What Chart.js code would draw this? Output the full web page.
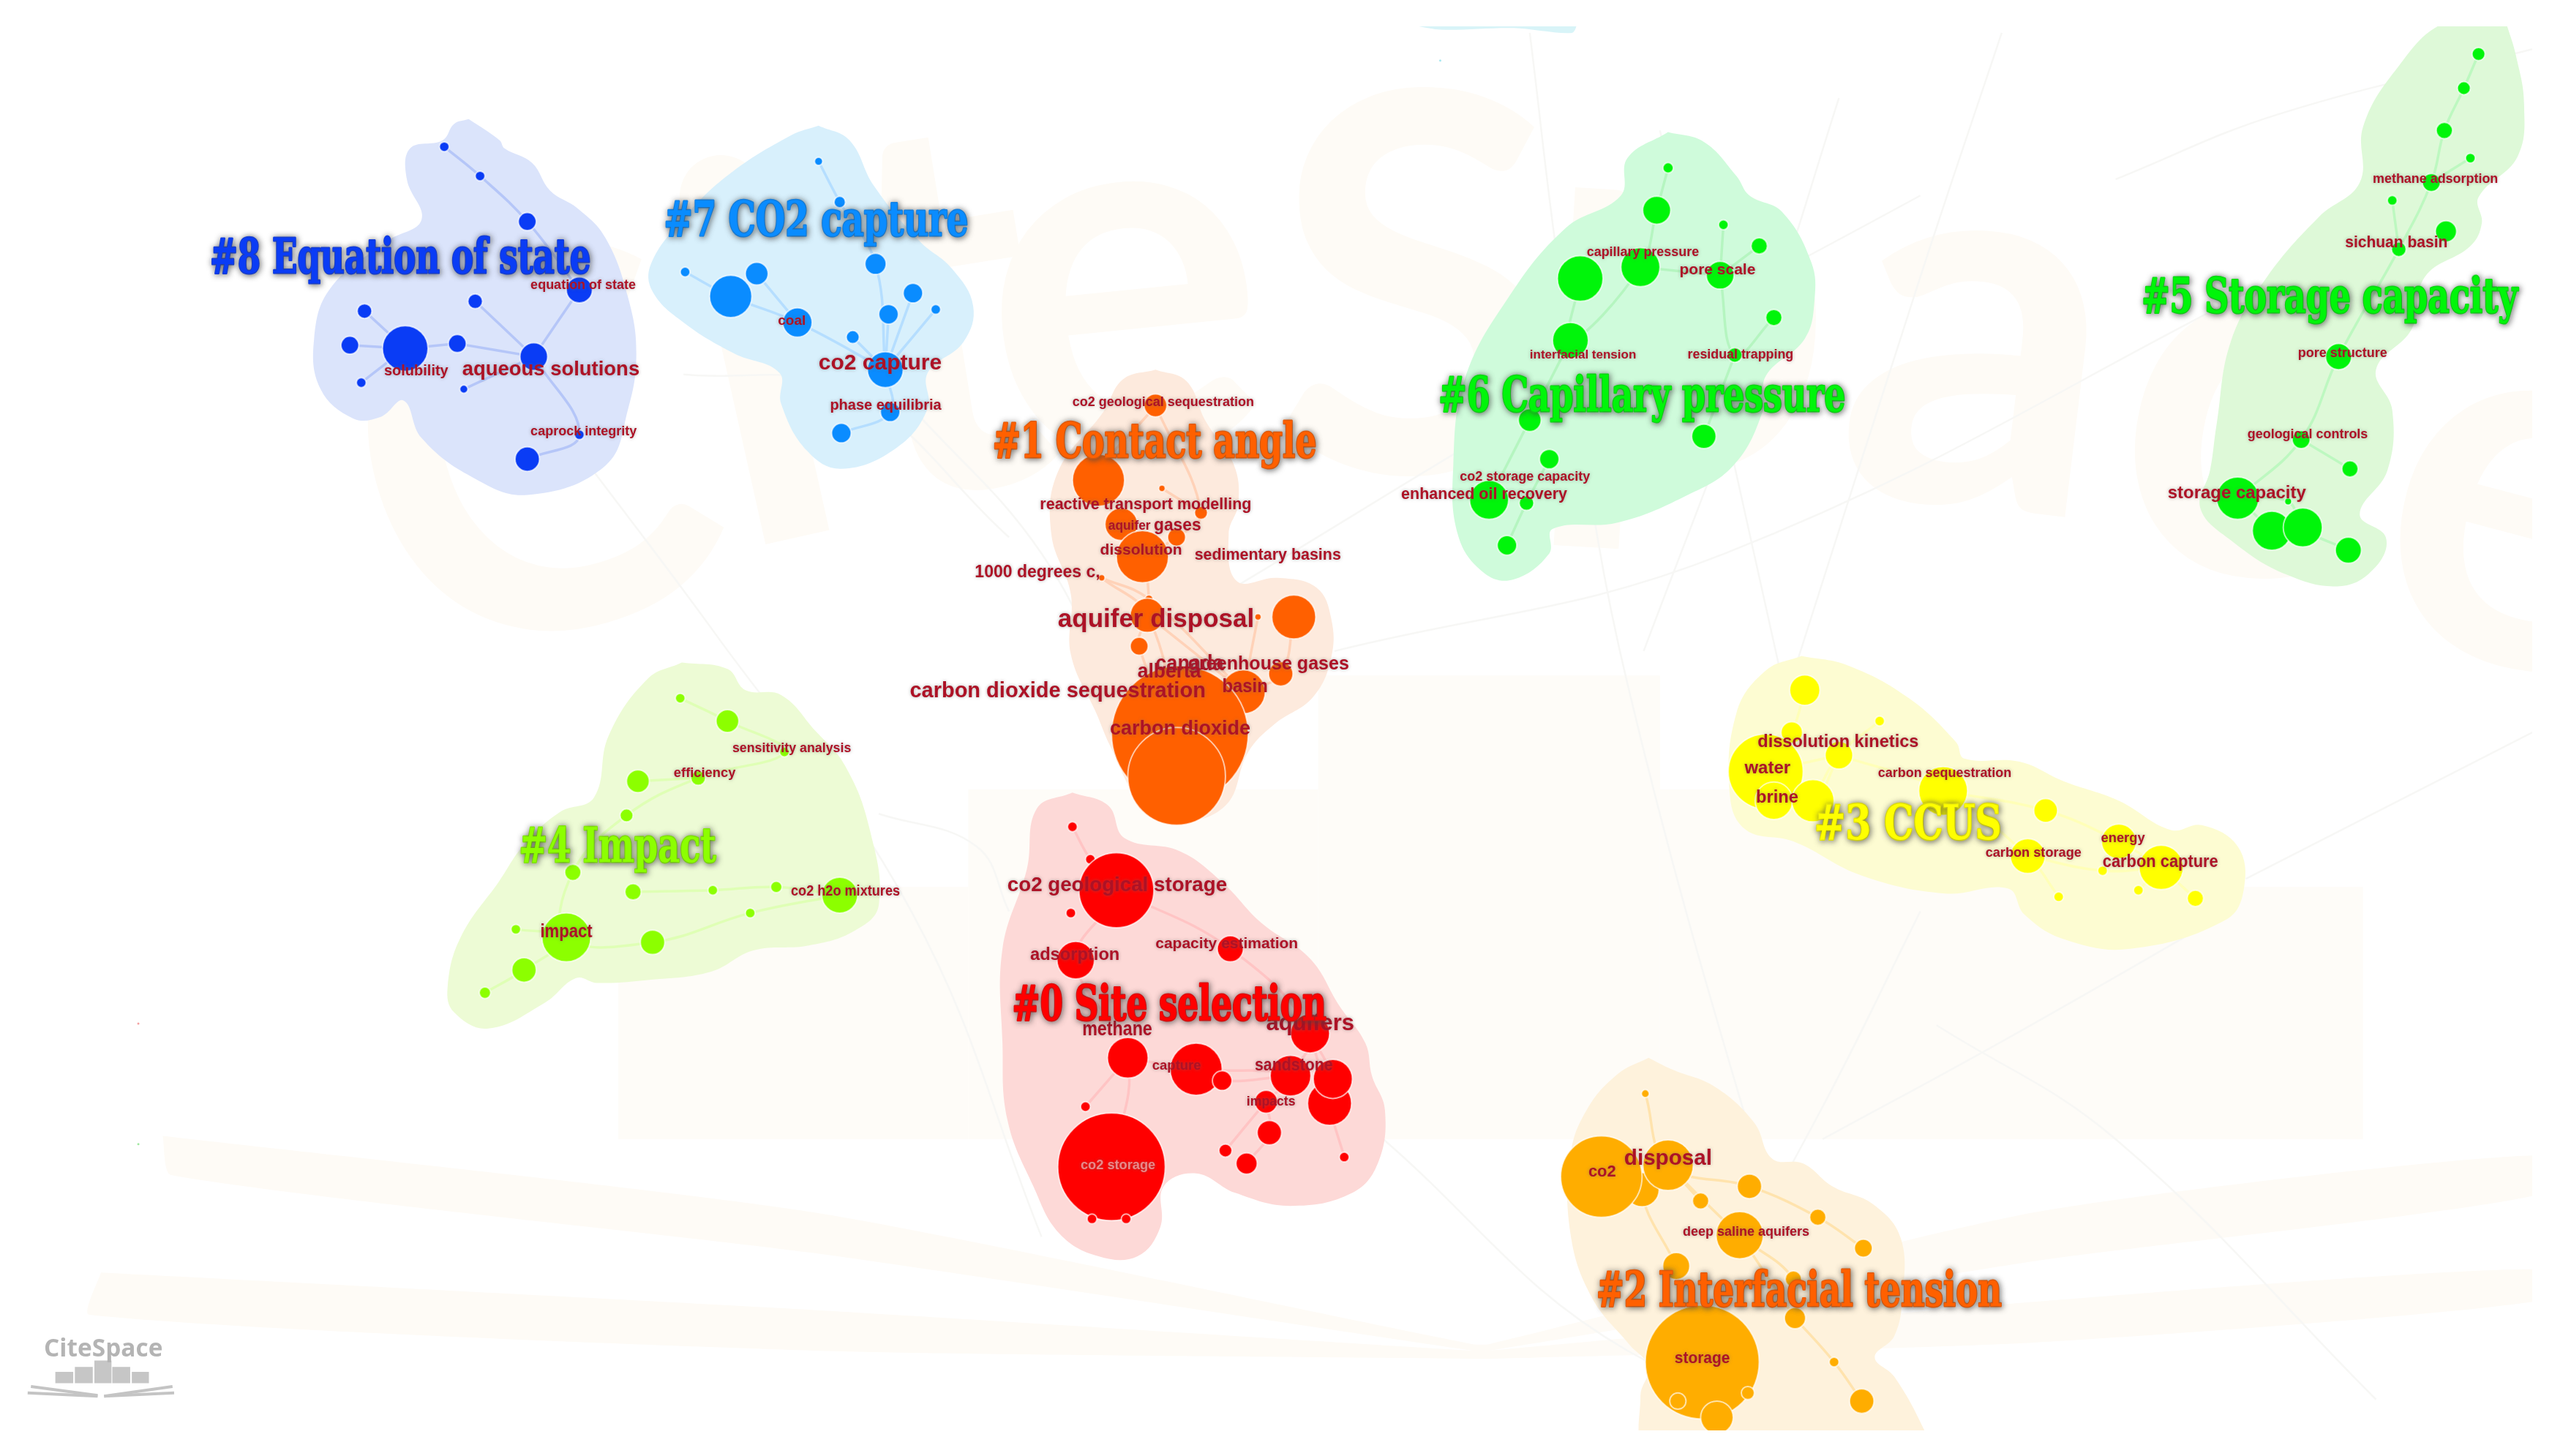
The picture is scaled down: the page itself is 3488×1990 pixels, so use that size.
<!DOCTYPE html>
<html>
<head>
<meta charset="utf-8">
<style>
html, body { margin: 0; padding: 0; background: #fff; }
canvas { display: block; }
</style>
<script src="https://cdn.jsdelivr.net/npm/chart.js@4/dist/chart.umd.js"></script>
</head>
<body>
<canvas id="first" width="3488" height="1990"></canvas>
<script>
// cluster nodes: [x, y, size]
const nodes0 = [[659,508,3],[670,528,3],[686,547,23],[658,561,3],[661,590,11.5],[756,583,8],[805,635,12],[693,650,12.5],[735,657,16],[751,664,6],[793,661,12.5],[817,678,13.5],[819,663,12],[778,677,7],[780,696,7.5],[753,707,4],[766,715,6.5],[826,711,3],[667,680,3],[683,717,33],[671,749,3],[692,749,3]];
const nodes1 = [[710,249,7],[675,295,16],[714,300,2],[738,315,4],[689,322,10],[723,330,5.5],[702,342,16],[677,355,2],[706,368,2.5],[705,378,10.5],[795,379,13.5],[773,379,2],[700,397,5.5],[787,414,7.5],[764,425,13.5],[725,451,42],[723,477,30]];
const nodes2 = [[1011,672,2.4],[1009,731,10.5],[984,723,25],[1025,716,15.5],[1075,729,7.5],[1045,738,5],[1117,748,5],[1069,759,14.5],[1145,767,5.5],[1030,778,8.3],[1102,786,5],[1103,810,6.5],[1127,837,3],[1046,837,35],[1074,856,4],[1031,861,5],[1055,871,10],[1144,861,7.5]];
const nodes3 = [[1109,424,9.3],[1155,443,3],[1101,450,6.6],[1130,464,8.5],[1085,474,23],[1090,492,11.5],[1114,492,13],[1194,486,15],[1257,498,7.3],[1302,517,10.7],[1246,526,10.7],[1328,533,13.6],[1292,535,3],[1314,547,3],[1265,551,3],[1349,552,5]];
const nodes4 = [[418,429,3],[447,443,7],[482,462,3],[429,478,4.5],[392,480,7],[385,501,4],[352,536,5],[389,548,5],[438,547,3],[477,545,3.5],[516,550,11],[461,561,3],[348,576,15],[401,579,7.5],[317,571,3],[322,596,7.5],[298,610,3.5]];
const nodes5 = [[1523,33,4],[1514,54,4],[1502,80,5],[1518,97,3],[1494,112,5.5],[1470,123,3],[1503,142,6.5],[1474,153,4.5],[1521,171,2.5],[1437,219,8],[1414,270,5.5],[1444,288,5],[1375,306,13],[1406,308,2.2],[1396,326,12],[1415,324,12],[1443,338,8]];
const nodes6 = [[1025,103,3.2],[1018,129,8.6],[1059,138,3],[1081,151,5],[1008,164,12],[971,171,14],[1057,169,8.5],[1090,195,5],[965,209,11],[1066,218,4.5],[940,258,7],[1047,268,7.5],[952,282,6],[915,307,12],[938,309,4.5],[926,335,6]];
const nodes7 = [[503,99,2.5],[516,124,3.5],[538,162,6.5],[561,180,6],[546,193,6],[575,190,3],[524,207,4],[544,227,11],[547,253,6],[517,266,6],[490,198,9],[465,168,7],[449,182,13],[421,167,3]];
const nodes8 = [[273,90,3],[295,108,3],[324,136,5.5],[356,178,8],[292,185,4.5],[224,191,4.5],[215,212,5.5],[249,214,14],[281,211,5.5],[328,219,8.5],[222,235,3],[285,239,2.5],[356,267,3],[324,282,7.5]];

// links between nodes, by node index
const chains0 = [[0,1,2,4,7,19],[2,5,6,10],[7,8,10,13,15],[18,7],[6,12,11,17],[13,14,16],[8,9,10],[19,20],[19,21],[6,11]];
const chains1 = [[0,1,4,6,8,9,12,15],[0,3,5,6],[2,3],[7,8,14],[7,9,15],[10,13,14],[11,14],[9,14]];
const chains2 = [[0,3,4,6,8],[3,5],[3,7,10,11],[3,1,9],[11,12,17],[7,11]];
const chains3 = [[0,2,4],[1,3,6],[4,3],[3,6,5],[3,7,10,14],[7,8,9,11],[10,12,11],[11,15],[11,13]];
const chains4 = [[0,1,2,3,5,6,12,13,11,10],[4,3],[7,8,9,10],[14,12,15,16]];
const chains5 = [[0,1,2,4,7,9,10,12],[3,4],[5,7],[10,11],[12,13,15,16],[12,14]];
const chains6 = [[0,1,4,8,5],[2,6],[3,6],[7,9,6],[4,6],[9,11],[8,10,13],[12,14,15]];
const chains7 = [[0,1,2,7],[3,7],[4,7],[5,7],[6,7],[7,8,9],[13,12,10,7],[11,10]];
const chains8 = [[0,1,2,3],[3,9],[4,9],[8,9],[7,8],[5,7],[6,7],[10,7],[11,9],[9,12,13]];

// cluster outlines
const hull0 = [[659,487],[681,495],[691,515],[725,523],[751,542],[775,567],[805,589],[823,618],[839,641],[843,661],[851,682],[847,714],[831,733],[793,741],[759,733],[735,721],[715,729],[713,754],[699,772],[675,772],[651,758],[635,729],[619,688],[616,641],[616,583],[631,534],[637,497]];
const hull1 = [[710,227],[729,234],[741,259],[758,285],[761,309],[755,328],[760,357],[785,355],[809,361],[818,380],[818,404],[807,428],[783,445],[767,462],[753,495],[723,505],[702,495],[682,458],[674,439],[658,402],[658,365],[646,328],[650,290],[678,253],[690,233]];
const hull2 = [[1013,650],[1027,657],[1054,668],[1078,690],[1089,712],[1108,715],[1126,729],[1151,740],[1168,761],[1169,797],[1164,821],[1152,834],[1164,846],[1182,878],[1185,890],[1014,890],[1008,858],[1013,840],[1001,826],[978,797],[965,758],[965,710],[975,682],[994,660]];
const hull3 = [[1107,403],[1136,409],[1173,429],[1202,456],[1207,466],[1241,468],[1268,480],[1302,492],[1334,510],[1353,507],[1375,520],[1379,545],[1368,565],[1309,583],[1268,577],[1244,562],[1234,546],[1195,549],[1144,538],[1102,517],[1073,510],[1063,489],[1067,438],[1085,412]];
const hull4 = [[419,407],[447,411],[458,424],[480,427],[501,449],[519,470],[534,508],[540,556],[525,572],[497,581],[463,584],[437,597],[400,602],[367,604],[354,601],[335,616],[300,632],[279,622],[275,607],[283,576],[307,541],[322,519],[344,499],[365,490],[374,452],[398,417]];
const hull5 = [[1540,14],[1546,34],[1551,64],[1547,96],[1523,121],[1525,137],[1518,151],[1490,170],[1482,202],[1460,227],[1470,252],[1467,289],[1450,316],[1466,330],[1460,348],[1439,360],[1405,353],[1371,332],[1352,312],[1358,289],[1362,261],[1371,209],[1393,170],[1425,133],[1450,112],[1452,78],[1472,43],[1502,14]];
const hull6 = [[1025,81],[1047,87],[1067,108],[1075,120],[1095,130],[1113,161],[1115,184],[1109,208],[1085,231],[1083,253],[1065,286],[1035,305],[994,321],[954,325],[952,340],[930,356],[912,352],[896,329],[893,286],[900,233],[926,184],[962,140],[996,120],[1000,97]];
const hull7 = [[503,77],[522,86],[537,114],[565,148],[585,165],[598,188],[592,210],[570,229],[570,251],[551,275],[517,288],[496,277],[480,248],[479,229],[451,217],[420,198],[401,179],[400,162],[420,134],[448,107],[486,83]];
const hull8 = [[288,73],[307,86],[310,91],[327,100],[338,117],[355,128],[372,146],[386,183],[391,217],[386,251],[372,286],[324,304],[290,293],[259,269],[248,246],[234,256],[217,257],[197,239],[193,208],[203,177],[238,148],[259,135],[250,110],[252,91],[272,86],[279,76]];

const allNodes = [nodes0, nodes1, nodes2, nodes3, nodes4, nodes5, nodes6, nodes7, nodes8];
const allChains = [chains0, chains1, chains2, chains3, chains4, chains5, chains6, chains7, chains8];
const allHulls = [hull0, hull1, hull2, hull3, hull4, hull5, hull6, hull7, hull8];
const nodeColors = ["#ff0000","#ff6000","#ffad00","#ffff00","#8cff00","#00f50a","#00f50a","#0a8cff","#0a3cf5"];
const hullColors = ["#fdd9d7","#fdeadd","#fef2dc","#fdfcd2","#edfbd5","#def9d8","#cffbdb","#d8f0fc","#dbe4fb"];
const linkColors = ["#ffc4c4","#ffd2b8","#ffe3ad","#ffffb8","#dfffb5","#bdf8c0","#b5f5c0","#b5deff","#b5c6f8"];

// cluster titles: [text, left, right, y]
const titles = [
  ["#8 Equation of state",129,363,160],["#7 CO2 capture",408,595,137],["#1 Contact angle",610,809,273],
  ["#6 Capillary pressure",884,1134,245],["#5 Storage capacity",1316,1547,184],["#4 Impact",319,440,522],
  ["#3 CCUS",1115,1230,508],["#0 Site selection",622,815,619],["#2 Interfacial tension",981,1230,795]
];
const titleColors = ["#0a3cf5","#0a8cff","#ff6000","#00f50a","#00f50a","#8cff00","#ffff00","#ff0000","#ff6000"];

// keyword labels: [text, left, right, y, size]
const keywords = [
  ["equation of state",326,391,175,18],["solubility",236,277,228,20],["aqueous solutions",284,393,227,28],["caprock integrity",326,392,265,18],
  ["coal",478,496,197,19],["co2 capture",503,583,223,30],["phase equilibria",510,582,249,20],
  ["co2 geological sequestration",659,771,247,18],["reactive transport modelling",639,769,310,22],["aquifer",681,707,323,18],["gases",709,738,323,23],
  ["dissolution",676,727,338,21],["sedimentary basins",734,824,341,22],["1000 degrees c,",599,679,352,23],["aquifer disposal",650,772,381,35],
  ["canada",710,752,408,29],["greenhouse gases",730,829,408,26],["alberta",699,738,413,27],["basin",751,779,422,25],
  ["carbon dioxide sequestration",559,743,425,29],["carbon dioxide",682,769,448,27],
  ["co2 geological storage",619,754,544,28],["adsorption",633,688,587,24],["capacity estimation",710,800,580,21],["methane",665,708,633,27],["aquifers",778,833,629,31],
  ["capture",708,738,655,19],["sandstone",771,819,655,23],["impacts",766,796,677,19],["co2 storage",664,710,716,19],
  ["capillary pressure",975,1044,155,18],["pore scale",1032,1080,166,21],["interfacial tension",940,1009,218,17],["residual trapping",1037,1102,218,18],
  ["co2 storage capacity",897,978,293,18],["enhanced oil recovery",861,963,304,22],
  ["methane adsorption",1458,1535,110,19],["sichuan basin",1441,1504,149,22],["pore structure",1412,1467,217,18],["geological controls",1381,1455,267,18],["storage capacity",1332,1417,303,24],
  ["dissolution kinetics",1080,1179,456,24],["water",1072,1101,472,24],["brine",1079,1105,490,24],["carbon sequestration",1154,1236,475,19],["carbon storage",1220,1279,524,19],["energy",1291,1318,515,19],["carbon capture",1292,1363,530,23],
  ["co2",976,993,720,22],["disposal",998,1052,712,30],["deep saline aquifers",1034,1112,757,18],["storage",1029,1063,835,22],
  ["sensitivity analysis",450,523,460,18],["efficiency",414,452,475,19],["co2 h2o mixtures",486,553,548,20],["impact",332,364,573,25]
];

// faint citation arcs behind the clusters
const faintLinks = [
  [[350,270],[440,390],[560,560],[640,760]],[[560,250],[640,340],[690,440]],[[1130,60],[1085,200],[1010,400]],[[1020,80],[1060,260],[1100,440]],
  [[760,360],[960,240],[1180,120]],[[820,400],[1060,340],[1400,170]],[[850,700],[1000,830],[1160,880]],[[1180,560],[1120,680],[1010,880]],
  [[1370,560],[1230,640],[1120,700]],[[940,20],[960,180],[1000,420],[1120,850]],[[1230,20],[1180,170],[1100,420]],[[540,500],[600,520],[620,560]],
  [[420,230],[520,240],[620,330]],[[1556,30],[1400,70],[1300,110]],[[1556,450],[1380,540]],[[1190,630],[1300,700],[1460,860]]
];

// faint CiteSpace logo in the background
const bgLetters = ["C","i","t","e","S","p","a","c","e"];
const bgLetterX = [355,490,595,700,870,1030,1205,1365,1530];
const bgLetterY = [385,330,300,280,290,285,310,350,405];
const bgLetterTilt = [-0.28,-0.22,-0.16,-0.1,0,0.06,0.12,0.18,0.26];
const bgBars = [[[380,545],[595,545],[595,700],[380,700]],[[595,485],[810,485],[810,700],[595,700]],[[810,415],[1020,415],[1020,700],[810,700]],[[1020,485],[1235,485],[1235,700],[1020,700]],[[1235,545],[1452,545],[1452,700],[1235,700]]];
const bgBook = [[[100,698],[500,745],[905,826],[915,826],[1250,745],[1556,710],[1556,735],[1250,775],[915,830],[905,830],[500,770],[105,722]],[[62,782],[500,805],[905,830],[915,830],[1250,800],[1556,780],[1556,800],[1250,825],[915,835],[905,835],[500,830],[55,808]]];

// small logo, bottom left
const logoBars = [[[34,843],[45,843],[45,850],[34,850]],[[46,840],[57,840],[57,850],[46,850]],[[58,836],[68.5,836],[68.5,850],[58,850]],[[69,840],[80,840],[80,850],[69,850]],[[81,843],[91.5,843],[91.5,850],[81,850]]];
const logoLines = [[[19,852],[60,857.5]],[[17,856],[60,858]],[[64,858],[106,852]],[[64,858],[107,856]]];
const strayPoints = [[85,629,"#f4a0a0"],[85,703,"#a0e8a0"],[885,37,"#a8e8f0"]];
const topSliver = [[862,14],[968,14],[966,20],[930,17],[885,18]];

const SCALE = 3488 / 1568;

function toPoints(list) {
  return list.map(p => ({x: p[0], y: p[1]}));
}
function closed(list) {
  return toPoints(list.concat([list[0]]));
}
function shape(list, color, order, tension) {
  return {
    type: "scatter", showLine: true, data: closed(list), fill: "shape",
    backgroundColor: color, borderColor: color, borderWidth: 0,
    pointRadius: 0, tension: tension, order: order
  };
}
function link(points, color, width, order, tension) {
  return {
    type: "scatter", showLine: true, data: points, fill: false,
    borderColor: color, borderWidth: width, pointRadius: 0,
    tension: tension, order: order
  };
}

let datasets = [];
bgBars.forEach(b => datasets.push(shape(b, "#fefcf8", 100, 0)));
bgBook.forEach(b => datasets.push(shape(b, "#fefbf6", 99, 0.2)));
faintLinks.forEach(l => datasets.push(link(toPoints(l), "#f7f7f5", 2.5, 98, 0.4)));
datasets.push(shape(topSliver, "#d8f4f8", 97, 0.3));

allHulls.forEach((h, i) => {
  datasets.push(shape(h, hullColors[i], 50 - i, 0.4));
});
allChains.forEach((chains, i) => {
  chains.forEach(c => {
    const pts = c.map(n => ({x: allNodes[i][n][0], y: allNodes[i][n][1]}));
    datasets.push(link(pts, linkColors[i], 3.5, 30 - i, 0.4));
  });
});
allNodes.forEach((nodes, i) => {
  datasets.push({
    type: "bubble",
    data: nodes.map(n => ({x: n[0], y: n[1], r: n[2] * SCALE})),
    backgroundColor: nodeColors[i],
    borderColor: "rgba(255,255,255,0.65)",
    borderWidth: 2,
    order: 10 - i * 0.1
  });
});
datasets.push({
  type: "bubble",
  data: strayPoints.map(p => ({x: p[0], y: p[1], r: 1.5})),
  backgroundColor: strayPoints.map(p => p[2]),
  borderWidth: 0,
  order: 9
});
logoBars.forEach(b => datasets.push(shape(b, "#c6c6c6", 8, 0)));
logoLines.forEach(l => datasets.push(link(toPoints(l), "#c4c4c4", 4, 8, 0)));

const textPlugin = {
  id: "textPlugin",
  beforeDatasetsDraw(chart) {
    const ctx = chart.ctx, xs = chart.scales.x, ys = chart.scales.y, a = chart.chartArea;
    ctx.save();
    ctx.beginPath();
    ctx.rect(a.left, a.top, a.width, a.height);
    ctx.clip();
    ctx.fillStyle = "#fefbf6";
    ctx.font = "bold 720px Lato";
    ctx.textAlign = "center";
    ctx.textBaseline = "alphabetic";
    bgLetters.forEach((l, i) => {
      ctx.save();
      ctx.translate(xs.getPixelForValue(bgLetterX[i]), ys.getPixelForValue(bgLetterY[i]));
      ctx.rotate(bgLetterTilt[i]);
      ctx.fillText(l, 0, 0);
      ctx.restore();
    });
    ctx.restore();
  },
  afterDatasetsDraw(chart) {
    const ctx = chart.ctx, xs = chart.scales.x, ys = chart.scales.y;
    ctx.save();
    ctx.textAlign = "left";
    ctx.textBaseline = "middle";
    ctx.shadowColor = "rgba(110,110,110,0.55)";
    ctx.shadowBlur = 4;
    keywords.forEach(k => {
      const left = xs.getPixelForValue(k[1]);
      const w = xs.getPixelForValue(k[2]) - left;
      ctx.font = "bold " + k[4] + "px 'Liberation Sans'";
      ctx.fillStyle = k[0] === "co2 storage" ? "#e88a8a" : "#ad1226";
      ctx.fillText(k[0], left, ys.getPixelForValue(k[3]), w);
    });
    ctx.shadowColor = "rgba(70,70,70,0.75)";
    ctx.shadowBlur = 8;
    ctx.shadowOffsetX = 1;
    ctx.shadowOffsetY = 1;
    ctx.lineJoin = "round";
    titles.forEach((t, i) => {
      const left = xs.getPixelForValue(t[1]);
      const w = xs.getPixelForValue(t[2]) - left;
      ctx.font = "bold 66px 'DejaVu Serif'";
      ctx.fillStyle = titleColors[i];
      ctx.strokeStyle = titleColors[i];
      ctx.lineWidth = 3;
      ctx.strokeText(t[0], left, ys.getPixelForValue(t[3]), w);
      ctx.fillText(t[0], left, ys.getPixelForValue(t[3]), w);
    });
    ctx.shadowColor = "transparent";
    ctx.fillStyle = "#b4b4b4";
    ctx.font = "bold 34px 'Open Sans'";
    ctx.fillText("CiteSpace", xs.getPixelForValue(27), ys.getPixelForValue(829), xs.getPixelForValue(100) - xs.getPixelForValue(27));
    ctx.restore();
  }
};

let chart = new Chart("first", {
  type: "bubble",
  data: {datasets: datasets},
  plugins: [textPlugin],
  options: {
    responsive: false,
    animation: false,
    devicePixelRatio: 1,
    layout: {autoPadding: false, padding: {left: 0, right: 27, top: 36, bottom: 35}},
    plugins: {legend: {display: false}, tooltip: {enabled: false}, title: {display: false}},
    scales: {
      x: {type: "linear", min: 0, max: 1556, display: false},
      y: {type: "linear", min: 16, max: 879, reverse: true, display: false}
    }
  }
});
</script>
</body>
</html>
